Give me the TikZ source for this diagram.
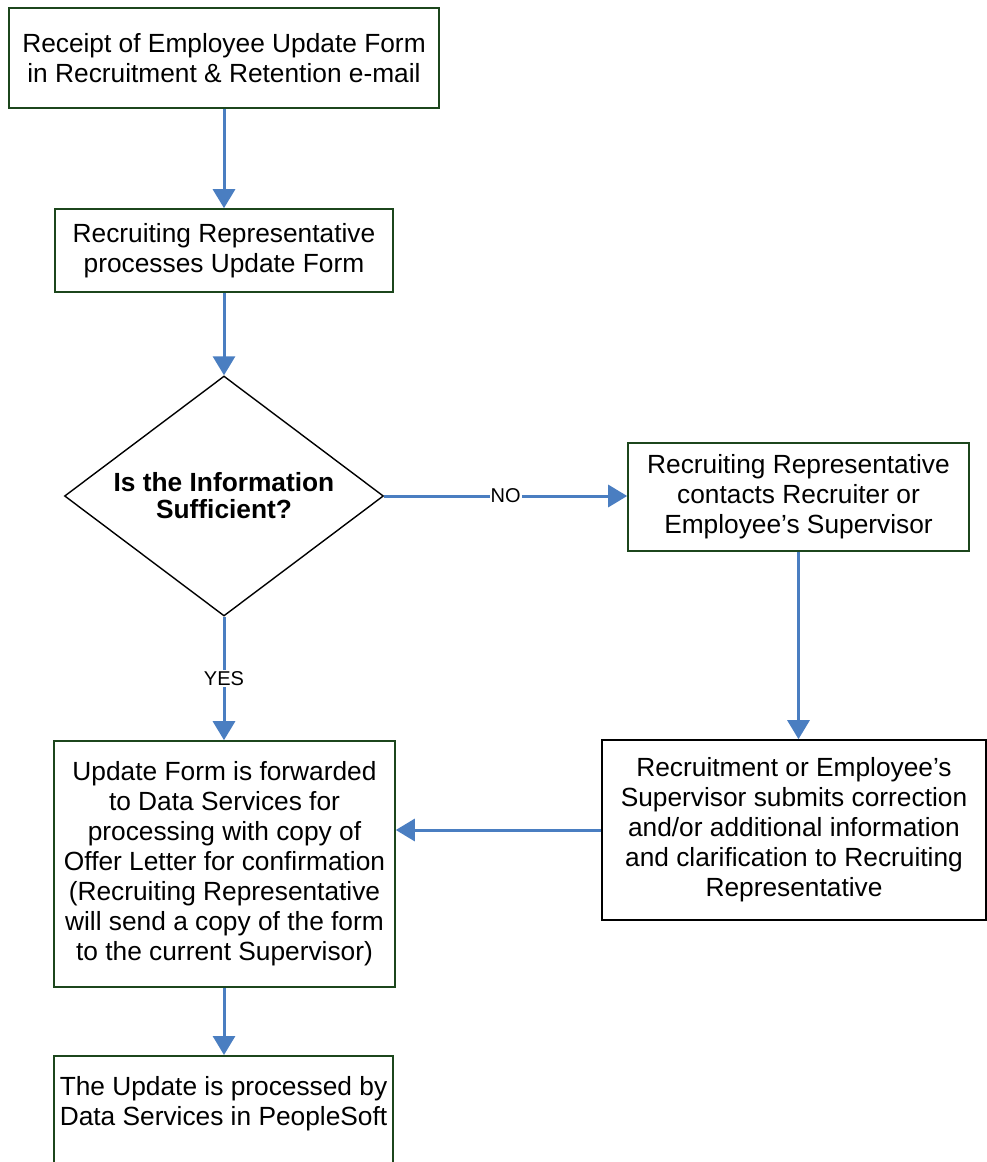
\documentclass[tikz,border=0pt]{standalone}
\usepackage{fontspec}
\setmainfont{Liberation Sans}
\usetikzlibrary{arrows.meta,shapes.geometric}
\definecolor{boxgreen}{RGB}{28,70,28}
\definecolor{arrowblue}{RGB}{74,126,193}
\begin{document}
\begin{tikzpicture}[x=1pt,y=-1pt,
  every node/.style={font=\fontsize{26.3}{30}\selectfont},
  gbox/.style={draw=boxgreen,line width=1.6pt,align=center,inner sep=0pt},
  kbox/.style={draw=black,line width=1.6pt,align=center,inner sep=0pt},
  flow/.style={draw=arrowblue,line width=3pt,-{Triangle[length=19pt,width=22pt]}},
  lbl/.style={fill=white,inner sep=1pt,font=\fontsize{20}{22}\selectfont}]
\useasboundingbox (0,0) rectangle (986,1162);
\node[gbox,minimum width=430,minimum height=100] (b1) at (224,58)
  {Receipt of Employee Update Form\\in Recruitment \& Retention e-mail};
\node[gbox,minimum width=338,minimum height=83] (b2) at (224,250.5)
  {Recruiting Representative\\processes Update Form};
\node[diamond,aspect=1.33,draw=black,line width=1.4pt,minimum width=319,minimum height=240,inner sep=0pt,align=center,font=\fontsize{26.3}{27}\bfseries] (d) at (224,496)
  {Is the Information\\Sufficient?};
\node[gbox,minimum width=341,minimum height=108] (b3) at (798.5,497)
  {Recruiting Representative\\contacts Recruiter or\\Employee’s Supervisor};
\node[kbox,minimum width=384,minimum height=180] (b4) at (794,830)
  {Recruitment or Employee’s\\Supervisor submits correction\\and/or additional information\\and clarification to Recruiting\\Representative};
\node[gbox,minimum width=341,minimum height=246] (b5) at (224.5,864)
  {Update Form is forwarded\\to Data Services for\\processing with copy of\\Offer Letter for confirmation\\(Recruiting Representative\\will send a copy of the form\\to the current Supervisor)};
\node[gbox,minimum width=339,minimum height=130,anchor=north] (b6) at (223.5,1055) {};
\node[align=center] (t6) at (223.5,1104) {The Update is processed by\\Data Services in PeopleSoft};
\draw[flow] (b1.south) -- (b2.north);
\draw[flow] (b2.south) -- (d.north);
\draw[flow] (d.east) -- node[lbl] (no) {NO} (d.east -| b3.west);
\draw[flow] (b3.south) -- (b3.south |- b4.north);
\draw[flow] (b4.west) -- (b4.west -| b5.east);
\draw[flow] (d.south) -- node[lbl,pos=0.5] (yes) {YES} (d.south |- b5.north);
\draw[flow] (d.south |- b5.south) -- (d.south |- b6.north);
\end{tikzpicture}
\end{document}
